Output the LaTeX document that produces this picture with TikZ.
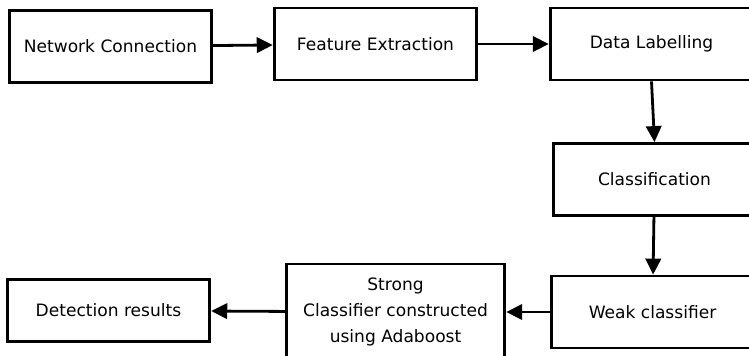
\documentclass[tikz,border=0pt]{standalone}
\usepackage{fontspec}
\setsansfont{DejaVu Sans}
\usetikzlibrary{positioning,arrows.meta}
\tikzset{
  stage/.style={draw,line width=2.1pt,inner sep=0pt,align=center,
    minimum width=152pt,minimum height=54pt,
    font=\sffamily\fontsize{12.8}{19.5}\selectfont},
  flow/.style={-{Triangle[length=12pt,width=11.5pt]},line width=2.1pt}
}

\begin{document}
\begin{tikzpicture}[x=0.75pt,y=-0.75pt]
    \useasboundingbox (0,0) rectangle (749,355);
    \clip (0,0) rectangle (749,355);
    % top row
    \node[stage] (net) at (110.5,46.5) {Network Connection};
    \node[stage] (feat) at (375.5,44) {Feature Extraction};
    \node[stage] (lab) at (651.5,44) {Data Labelling};
    % right column
    \node[stage] (cls) at (654.5,179.5) {Classification};
    \node[stage] (weak) at (652.5,312) {Weak classifier};
    % bottom row
    \node[stage,minimum width=164pt,minimum height=72pt] (strong) at (395.5,312) {Strong\\Classifier constructed\\using Adaboost};
    \node[stage,minimum height=46pt] (det) at (108.5,310.5) {Detection results};
    \draw[flow] (net) -- (feat);
    \draw[flow] (feat) -- (lab);
    \draw[flow] (lab.south) -- (cls.north);
    \draw[flow] (cls) -- (weak);
    \draw[flow] (weak) -- (strong);
    \draw[flow] (strong) -- (det);
\end{tikzpicture}
\end{document}
